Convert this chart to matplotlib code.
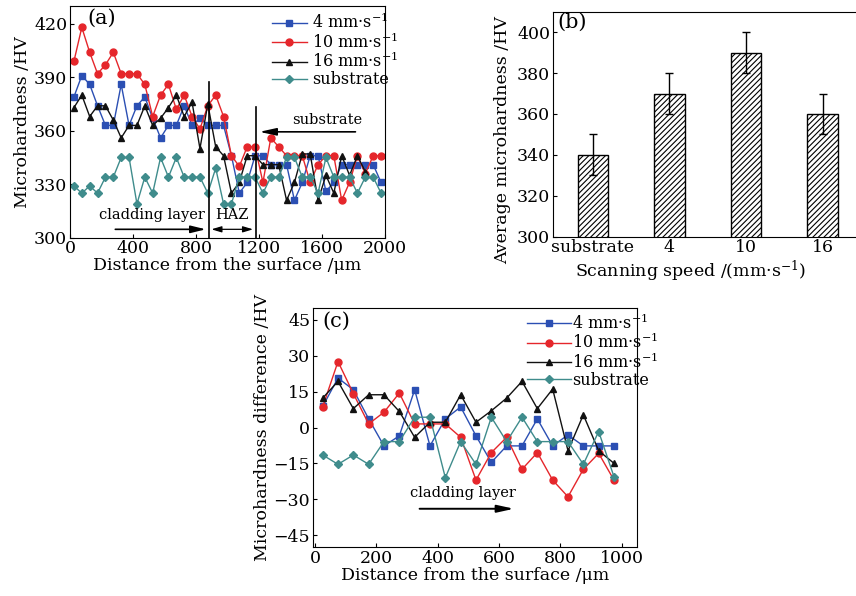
import matplotlib
matplotlib.use("Agg")
import matplotlib.pyplot as plt
import numpy as np

plt.rcParams['font.family'] = ['DejaVu Serif']
plt.rcParams['mathtext.fontset'] = 'dejavuserif'
plt.rcParams['xtick.direction'] = 'in'
plt.rcParams['ytick.direction'] = 'in'
plt.rcParams['hatch.linewidth'] = 0.8

# ---------------- data ----------------
# panel (a)
dist_a = [25, 75, 125, 175, 225, 275, 325, 375, 425, 475,
          525, 575, 625, 675, 725, 775, 825, 875, 925, 975,
          1025, 1075, 1125, 1175, 1225, 1275, 1325, 1375, 1425, 1475,
          1525, 1575, 1625, 1675, 1725, 1775, 1825, 1875, 1925, 1975]
hv_4 = [379, 391, 386, 374, 363, 363, 386, 363, 374, 379,
        367, 356, 363, 363, 374, 363, 367, 363, 363, 363,
        346, 325, 331, 346, 346, 341, 341, 341, 321, 331,
        346, 346, 326, 331, 341, 341, 341, 341, 341, 331]
hv_10 = [399, 418, 404, 392, 397, 404, 392, 392, 392, 386,
         368, 380, 386, 372, 380, 368, 361, 374, 380, 368,
         346, 340, 351, 351, 331, 356, 351, 346, 346, 346,
         331, 341, 346, 346, 321, 331, 346, 336, 346, 346]
hv_16 = [373, 380, 368, 374, 374, 366, 356, 363, 363, 374,
         363, 367, 373, 380, 368, 376, 350, 375, 351, 346,
         325, 331, 346, 346, 341, 341, 341, 321, 331, 347,
         347, 321, 335, 325, 346, 335, 346, 337]
hv_sub = [329, 325, 329, 325, 334, 334, 345, 345, 319, 334,
          325, 345, 334, 345, 334, 334, 334, 325, 339, 319,
          319, 334, 334, 334, 325, 334, 334, 345, 345, 334,
          334, 325, 345, 334, 334, 334, 325, 334, 334, 325]

# panel (b)
speed_labels = ['substrate', '4', '10', '16']
avg_hv = [340, 370, 390, 360]
avg_err = [10, 10, 10, 10]

# panel (c)
dist_c = [25, 75, 125, 175, 225, 275, 325, 375, 425, 475,
          525, 575, 625, 675, 725, 775, 825, 875, 925, 975]
diff_4 = [8.8, 20.7, 15.8, 3.6, -7.7, -3.5, 15.8, -7.7, 3.6, 8.6,
          -3.5, -14.6, -7.7, -7.7, 3.6, -7.7, -3.1, -7.7, -7.7, -7.7]
diff_10 = [8.6, 27.6, 14.2, 1.5, 6.4, 14.4, 1.5, 1.5, 1.5, -4.1,
           -22.0, -10.5, -4.1, -17.5, -10.5, -22.0, -29.0, -17.5, -10.8, -22.0]
diff_16 = [12.3, 19.3, 7.9, 13.7, 13.7, 6.7, -4.1, 2.2, 2.2, 13.7,
           2.2, 7.0, 12.3, 19.3, 7.9, 16.1, -9.7, 5.3, -9.7, -15.0]
diff_sub = [-11.5, -15.4, -11.5, -15.4, -5.9, -5.9, 4.3, 4.3, -21.0, -5.9,
            -15.4, 4.3, -5.9, 4.3, -5.9, -5.9, -5.9, -15.4, -1.7, -20.6]

series_labels = ['4 mm·s$^{-1}$', '10 mm·s$^{-1}$', '16 mm·s$^{-1}$', 'substrate']
colors = ['#2b4fb3', '#e5262b', '#111111', '#3f8c8c']
markers = ['s', 'o', '^', 'D']
msizes = [4.5, 5, 5, 4]

W, H = 856, 596
fig = plt.figure(figsize=(W / 100, H / 100), dpi=100)

def rect(l, r, t, b):
    return [l / W, 1 - b / H, (r - l) / W, (b - t) / H]

TICK = 12.5
LAB = 12.5
LEG = 11.5

# ---------------- panel (a) ----------------
axa = fig.add_axes(rect(70, 385, 6, 237.7))
for y, c, m, ms, lab in zip([hv_4, hv_10, hv_16, hv_sub], colors, markers, msizes, series_labels):
    axa.plot(dist_a[:len(y)], y, color=c, marker=m, ms=ms, lw=1.0, label=lab)
axa.set_xlim(0, 2000)
axa.set_ylim(300, 430)
axa.set_xticks([0, 400, 800, 1200, 1600, 2000])
axa.set_yticks([300, 330, 360, 390, 420])
axa.tick_params(labelsize=TICK, length=3, pad=2)
axa.set_xlabel('Distance from the surface /μm', fontsize=LAB, labelpad=0)
axa.set_ylabel('Microhardness /HV', fontsize=LAB, labelpad=2)
axa.text(0.055, 0.99, '(a)', transform=axa.transAxes, fontsize=15, va='top', ha='left')
axa.legend(loc='upper left', bbox_to_anchor=(0.6, 1.025), frameon=False, fontsize=LEG,
           handlelength=2.2, handletextpad=0.3, labelspacing=0.0, borderpad=0.3)
# annotations
axa.plot([880, 880], [300, 387.5], color='black', lw=1.2)
axa.plot([1180, 1180], [300, 373.5], color='black', lw=1.2)
axa.annotate('', xy=(880, 304.7), xytext=(270, 304.7),
             arrowprops=dict(arrowstyle='-|>,head_length=0.9,head_width=0.22', color='black', lw=1.2))
axa.annotate('', xy=(1180, 304.7), xytext=(880, 304.7),
             arrowprops=dict(arrowstyle='<|-|>,head_length=0.6,head_width=0.18', color='black', lw=0.9))
axa.annotate('', xy=(1185, 359.4), xytext=(1830, 359.4),
             arrowprops=dict(arrowstyle='-|>,head_length=1.0,head_width=0.22', color='black', lw=1.2))
axa.text(520, 312.5, 'cladding layer', fontsize=10.5, ha='center', va='center')
axa.text(1030, 312.5, 'HAZ', fontsize=10.5, ha='center', va='center')
axa.text(1630, 366, 'substrate', fontsize=10.5, ha='center', va='center')

# ---------------- panel (b) ----------------
axb = fig.add_axes(rect(553, 862.5, 11.7, 236.7))
xb = np.arange(len(speed_labels))
axb.bar(xb, avg_hv, width=0.4, color='white', edgecolor='black', hatch='//////', lw=1.0,
        yerr=avg_err, capsize=3, error_kw=dict(elinewidth=1.0, capthick=1.0, ecolor='black'))
axb.set_xlim(-0.52, 3.52)
axb.set_ylim(300, 410)
axb.set_xticks(xb)
axb.set_xticklabels(speed_labels)
axb.set_yticks([300, 320, 340, 360, 380, 400])
axb.tick_params(labelsize=TICK, length=3, pad=2)
axb.tick_params(axis='x', length=0)
axb.set_xlabel('Scanning speed /(mm·s$^{-1}$)', fontsize=LAB, labelpad=0)
axb.set_ylabel('Average microhardness /HV', fontsize=LAB)
axb.yaxis.set_label_coords(-0.135, 0.43)
axb.xaxis.set_label_coords(0.445, -0.1)
axb.text(0.015, 0.995, '(b)', transform=axb.transAxes, fontsize=15, va='top', ha='left')

# ---------------- panel (c) ----------------
axc = fig.add_axes(rect(313, 637, 308, 547))
for y, c, m, ms, lab in zip([diff_4, diff_10, diff_16, diff_sub], colors, markers, msizes, series_labels):
    axc.plot(dist_c, y, color=c, marker=m, ms=ms, lw=1.0, label=lab)
axc.set_xlim(-6.5, 1050)
axc.set_ylim(-50, 50)
axc.set_xticks([0, 200, 400, 600, 800, 1000])
axc.set_yticks([-45, -30, -15, 0, 15, 30, 45])
axc.set_yticklabels(['−45', '−30', '−15', '0', '15', '30', '45'])
axc.tick_params(labelsize=TICK, length=3, pad=2)
axc.set_xlabel('Distance from the surface /μm', fontsize=LAB, labelpad=0)
axc.set_ylabel('Microhardness difference /HV', fontsize=LAB, labelpad=2)
axc.text(0.03, 0.985, '(c)', transform=axc.transAxes, fontsize=15, va='top', ha='left')
axc.legend(loc='upper left', bbox_to_anchor=(0.62, 1.03), frameon=False, fontsize=LEG,
           handlelength=2.8, handletextpad=0.05, labelspacing=0.0, borderpad=0.3)
axc.annotate('', xy=(658, -34), xytext=(332, -34),
             arrowprops=dict(arrowstyle='-|>,head_length=1.0,head_width=0.22', color='black', lw=1.4))
axc.text(484, -27.6, 'cladding layer', fontsize=10.5, ha='center', va='center')

fig.savefig('out.png', dpi=100)
